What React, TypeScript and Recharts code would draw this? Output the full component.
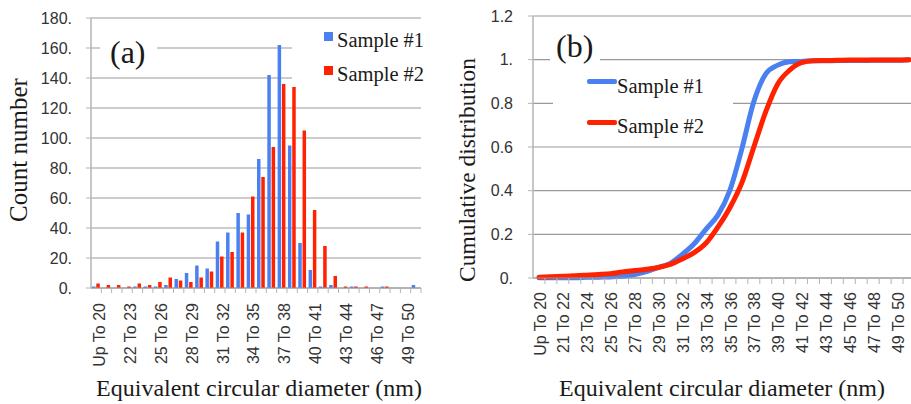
import React from 'react'
import { BarChart, Bar, LineChart, Line, XAxis, YAxis, CartesianGrid } from 'recharts'

// size classes (nm)
const categories = [
  'Up To 20', '20 To 21', '21 To 22', '22 To 23', '23 To 24', '24 To 25', '25 To 26', '26 To 27',
  '27 To 28', '28 To 29', '29 To 30', '30 To 31', '31 To 32', '32 To 33', '33 To 34', '34 To 35',
  '35 To 36', '36 To 37', '37 To 38', '38 To 39', '39 To 40', '40 To 41', '41 To 42', '42 To 43',
  '43 To 44', '44 To 45', '45 To 46', '46 To 47', '47 To 48', '48 To 49', '49 To 50', 'More',
]

const sample1Counts = [
  1, 0, 0, 0, 1, 1, 1, 2, 6, 10, 15, 13, 31, 37, 50, 49,
  86, 142, 162, 95, 30, 12, 1, 2, 0, 1, 0, 0, 1, 0, 0, 2,
]
const sample2Counts = [
  3, 2, 2, 1, 3, 2, 4, 7, 5, 4, 7, 11, 21, 24, 37, 61,
  74, 94, 136, 134, 105, 52, 28, 8, 1, 1, 1, 0, 1, 0, 0, 0,
]

const sample1Cumulative = [
  0.001, 0.001, 0.001, 0.001, 0.003, 0.004, 0.005, 0.008, 0.016, 0.029, 0.049, 0.067, 0.108, 0.157, 0.224, 0.289,
  0.403, 0.593, 0.808, 0.935, 0.975, 0.991, 0.992, 0.995, 0.995, 0.996, 0.996, 0.996, 0.997, 0.997, 0.997, 1.0,
]
const sample2Cumulative = [
  0.004, 0.006, 0.008, 0.01, 0.013, 0.016, 0.02, 0.028, 0.034, 0.04, 0.048, 0.062, 0.087, 0.116, 0.16, 0.234,
  0.323, 0.437, 0.6, 0.762, 0.889, 0.952, 0.986, 0.995, 0.996, 0.997, 0.998, 0.998, 0.999, 0.999, 0.999, 1.0,
]

const countTicks = [0, 20, 40, 60, 80, 100, 120, 140, 160, 180]
const cumulativeTicks = [0, 0.2, 0.4, 0.6, 0.8, 1, 1.2]

const BLUE = '#4a80f0'
const RED = '#ff2200'
const GRID = '#9a9a9a'
const AXIS = '#b4b4b4'
const SANS = '"Liberation Sans", Arial, sans-serif'
const SERIF = '"Liberation Serif", "Times New Roman", serif'

const histData = categories.map((cat, i) => ({
  cat,
  s1: sample1Counts[i],
  s2: sample2Counts[i],
}))
const cumData = categories.map((cat, i) => ({
  cat,
  s1: sample1Cumulative[i],
  s2: sample2Cumulative[i],
}))

// Excel style: integers get a trailing dot
const excelFmt = (v: number) => (Number.isInteger(v) ? `${v}.` : `${v}`)

const BAND_A = 330 / 32
const STEP_B = 370 / 31

const TickA = (props: any) => {
  const { x, y, payload } = props
  const i = props.index ?? payload.index
  const tx = x + 3
  const ty = y + 15
  return (
    <g>
      <line x1={x + BAND_A / 2} y1={y} x2={x + BAND_A / 2} y2={y + 5} stroke={AXIS} />
      {i % 3 === 0 && (
        <text
          x={tx}
          y={ty}
          dy='0.35em'
          textAnchor='end'
          transform={`rotate(-90 ${tx} ${ty})`}
          fontFamily={SANS}
          fontSize={16}
          fill='#333'
        >
          {payload.value}
        </text>
      )}
    </g>
  )
}

const TickB = (props: any) => {
  const { x, y, payload } = props
  const i = props.index ?? payload.index
  const tx = x + 1
  const ty = y + 14
  return (
    <g>
      <line x1={x + STEP_B / 2} y1={y} x2={x + STEP_B / 2} y2={y + 6} stroke={AXIS} />
      {i % 2 === 0 && (
        <text
          x={tx}
          y={ty}
          dy='0.35em'
          textAnchor='end'
          transform={`rotate(-90 ${tx} ${ty})`}
          fontFamily={SANS}
          fontSize={16}
          fill='#333'
        >
          {payload.value}
        </text>
      )}
    </g>
  )
}

const abs = (style: React.CSSProperties): React.CSSProperties => ({
  position: 'absolute',
  whiteSpace: 'nowrap',
  lineHeight: 1,
  ...style,
})

const yTickStyle = { fontFamily: SANS, fontSize: 16, fill: '#333' }

export default function App() {
  return (
    <div
      style={{
        position: 'absolute',
        left: 0,
        top: 0,
        width: 911,
        height: 404,
        overflow: 'hidden',
        background: '#fff',
        fontFamily: SERIF,
        color: '#1a1a1a',
      }}
    >
      {/* (a) histogram */}
      <div style={{ position: 'absolute', left: 0, top: 0 }}>
        <BarChart
          width={440}
          height={404}
          data={histData}
          margin={{ top: 18, right: 19, bottom: 0, left: 0 }}
          barSize={3.5}
          barGap={0.8}
        >
          <CartesianGrid vertical={false} stroke={GRID} strokeWidth={1.2} />
          <XAxis
            dataKey='cat'
            height={116}
            interval={0}
            tickSize={0}
            tickMargin={0}
            tickLine={false}
            tick={<TickA />}
            axisLine={{ stroke: GRID, strokeWidth: 1.2 }}
          />
          <YAxis
            width={91}
            domain={[0, 180]}
            ticks={countTicks}
            tickFormatter={excelFmt}
            tickSize={5}
            tickMargin={14}
            tick={yTickStyle}
            tickLine={{ stroke: AXIS }}
            axisLine={{ stroke: AXIS, strokeWidth: 1.5 }}
          />
          <Bar dataKey='s1' name='Sample #1' fill={BLUE} isAnimationActive={false} />
          <Bar dataKey='s2' name='Sample #2' fill={RED} isAnimationActive={false} />
        </BarChart>
      </div>

      {/* (b) cumulative */}
      <div style={{ position: 'absolute', left: 450, top: 0 }}>
        <LineChart
          width={470}
          height={404}
          data={cumData}
          margin={{ top: 16, right: 5, bottom: 0, left: 0 }}
        >
          <CartesianGrid vertical={false} stroke={GRID} strokeWidth={1.2} />
          <XAxis
            dataKey='cat'
            height={126}
            interval={0}
            padding={{ left: 6, right: 6 }}
            tickSize={0}
            tickMargin={0}
            tickLine={false}
            tick={<TickB />}
            axisLine={{ stroke: GRID, strokeWidth: 1.2 }}
          />
          <YAxis
            width={83}
            domain={[0, 1.2]}
            ticks={cumulativeTicks}
            tickFormatter={excelFmt}
            tickSize={5}
            tickMargin={15}
            tick={yTickStyle}
            tickLine={{ stroke: AXIS }}
            axisLine={{ stroke: AXIS, strokeWidth: 1.5 }}
          />
          <Line
            type='monotone'
            dataKey='s1'
            name='Sample #1'
            stroke={BLUE}
            strokeWidth={5}
            strokeLinecap='round'
            dot={false}
            isAnimationActive={false}
          />
          <Line
            type='monotone'
            dataKey='s2'
            name='Sample #2'
            stroke={RED}
            strokeWidth={5}
            strokeLinecap='round'
            dot={false}
            isAnimationActive={false}
          />
        </LineChart>
      </div>

      {/* panel labels, titles, legends */}
      <div style={abs({ left: 100, top: 34, width: 57, height: 36, background: '#fff' })} />
      <div style={abs({ left: 110, top: 36, fontSize: 32 })}>(a)</div>

      <div style={abs({ left: 292, top: 24, width: 132, height: 62, background: '#fff' })} />
      <div style={abs({ left: 324, top: 32, width: 9, height: 9, background: BLUE })} />
      <div style={abs({ left: 337, top: 30, fontSize: 20.5 })}>Sample #1</div>
      <div style={abs({ left: 324, top: 66, width: 9, height: 9, background: RED })} />
      <div style={abs({ left: 337, top: 64, fontSize: 20.5 })}>Sample #2</div>

      <div
        style={abs({
          left: 18,
          top: 150,
          fontSize: 25,
          transform: 'translate(-50%, -50%) rotate(-90deg)',
        })}
      >
        Count number
      </div>
      <div style={abs({ left: 259, top: 388, fontSize: 24, transform: 'translate(-50%, -50%)' })}>
        Equivalent circular diameter (nm)
      </div>

      <div style={abs({ left: 550, top: 28, width: 50, height: 38, background: '#fff' })} />
      <div style={abs({ left: 556, top: 30, fontSize: 32 })}>(b)</div>

      <div style={abs({ left: 553, top: 68, width: 180, height: 72, background: '#fff' })} />
      <div style={abs({ left: 587, top: 79, width: 30, height: 5, background: BLUE, borderRadius: 2 })} />
      <div style={abs({ left: 617, top: 76, fontSize: 20.5 })}>Sample #1</div>
      <div style={abs({ left: 587, top: 120, width: 30, height: 5, background: RED, borderRadius: 2 })} />
      <div style={abs({ left: 617, top: 116, fontSize: 20.5 })}>Sample #2</div>

      <div
        style={abs({
          left: 468,
          top: 170,
          fontSize: 23.5,
          transform: 'translate(-50%, -50%) rotate(-90deg)',
        })}
      >
        Cumulative distribution
      </div>
      <div style={abs({ left: 722, top: 388, fontSize: 24, transform: 'translate(-50%, -50%)' })}>
        Equivalent circular diameter (nm)
      </div>
    </div>
  )
}
